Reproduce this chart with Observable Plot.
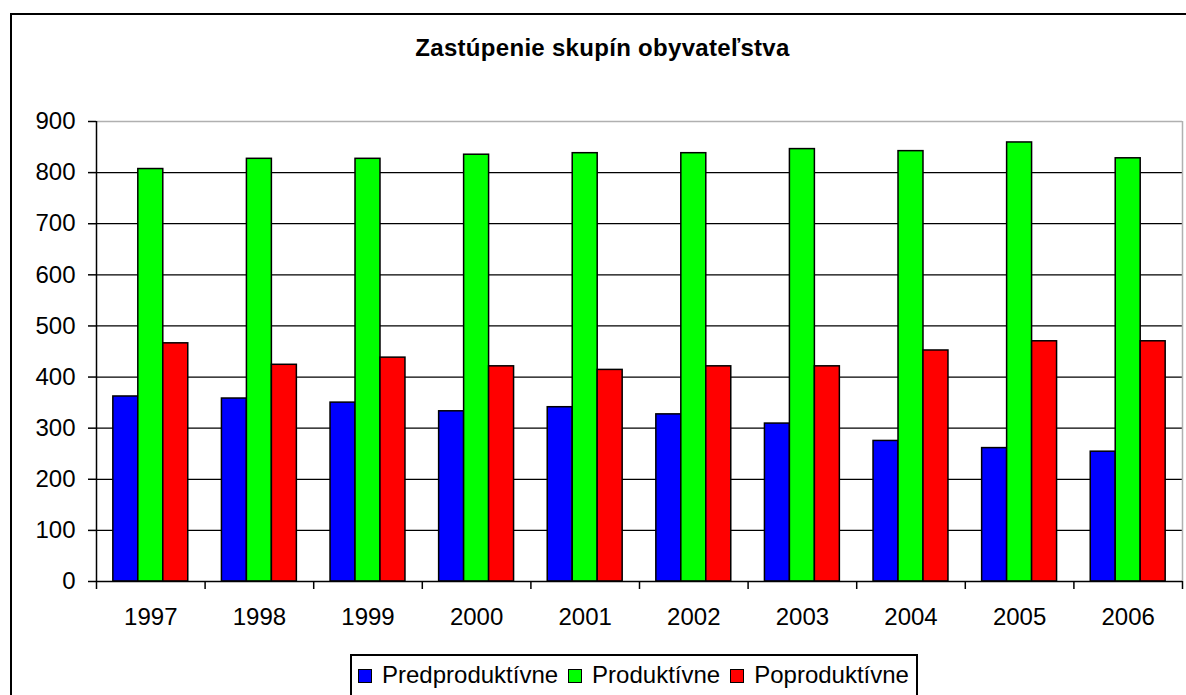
<!DOCTYPE html>
<html>
<head>
<meta charset="utf-8">
<script src="https://cdn.jsdelivr.net/npm/d3@7"></script>
<script src="https://cdn.jsdelivr.net/npm/@observablehq/plot@0.6"></script>
<style>
  html, body { margin: 0; padding: 0; background: #fff; overflow: hidden; width: 1186px; height: 695px; }
  body { position: relative; font-family: "Liberation Sans", Arial, sans-serif; color: #000; }
  #frame { position: absolute; left: 10px; top: 13px; width: 1200px; height: 720px; border: 2px solid #000; box-sizing: border-box; }
  #title { position: absolute; left: 0; top: 36px; width: 1205px; text-align: center; font-weight: bold; font-size: 24px; line-height: 24px; letter-spacing: 0.3px; }
  #chart { position: absolute; left: 0; top: 100px; }
  #legend { position: absolute; left: 350px; top: 654px; width: 568px; height: 60px; border: 2px solid #000; box-sizing: border-box; padding: 7px 0 0 6px; font-size: 24px; line-height: 24px; white-space: nowrap; }
  .item { display: inline-block; margin-right: 10px; }
  .sw { display: inline-block; width: 12px; height: 12px; border: 1.5px solid #000; margin-right: 10px; vertical-align: baseline; }
</style>
</head>
<body>
<div id="frame"></div>
<div id="title">Zastúpenie skupín obyvateľstva</div>
<div id="chart"></div>
<div id="legend"></div>
<script>
const years = [1997, 1998, 1999, 2000, 2001, 2002, 2003, 2004, 2005, 2006];
const seriesNames = ["Predproduktívne", "Produktívne", "Poproduktívne"];
const seriesColors = ["#0000FF", "#00FF00", "#FF0000"];
const predproduktivne = [362, 358, 350, 333, 341, 327, 309, 275, 261, 254];
const produktivne = [807, 827, 827, 835, 838, 838, 846, 842, 859, 828];
const poproduktivne = [466, 424, 438, 421, 414, 421, 421, 452, 470, 470];
const yTicks = [0, 100, 200, 300, 400, 500, 600, 700, 800, 900];

const seriesValues = [predproduktivne, produktivne, poproduktivne];
const groupWidth = 0.69;            // fraction of each category occupied by the bar cluster
const barW = groupWidth / seriesNames.length;
const data = [];
years.forEach((yr, i) => {
  seriesNames.forEach((s, j) => {
    const x1 = i + (1 - groupWidth) / 2 + j * barW;
    data.push({year: yr, series: s, value: seriesValues[j][i], x1, x2: x1 + barW});
  });
});

const font = "'Liberation Sans', Arial, sans-serif";
const chart = Plot.plot({
  width: 1186,
  height: 540,
  marginTop: 21,
  marginBottom: 59,
  marginLeft: 96,
  marginRight: 4,
  x: {domain: [0, years.length], axis: null},
  y: {domain: [0, 900], axis: null},
  color: {domain: seriesNames, range: seriesColors},
  style: {fontFamily: font, fontSize: "24px", color: "#000", background: "transparent", overflow: "visible"},
  marks: [
    Plot.ruleY(yTicks.filter(d => d > 0 && d < 900), {stroke: "#000", strokeWidth: 1.2}),
    Plot.ruleY([900], {stroke: "#b0b0b0", strokeWidth: 1.5}),
    Plot.ruleX([years.length], {stroke: "#b0b0b0", strokeWidth: 1.5}),
    Plot.rectY(data, {x1: "x1", x2: "x2", y: "value", fill: "series", stroke: "#000", strokeWidth: 1.5}),
    Plot.ruleY([0], {stroke: "#000", strokeWidth: 1.5}),
    Plot.ruleX([0], {stroke: "#000", strokeWidth: 1.5}),
    Plot.axisY(yTicks, {anchor: "left", label: null, tickSize: 8, tickPadding: 13, tickFormat: d3.format("d"), fontSize: 24, stroke: "#000", strokeWidth: 1.5}),
    Plot.axisX(d3.range(years.length + 1), {anchor: "bottom", label: null, tickSize: 8, tickFormat: () => "", stroke: "#000", strokeWidth: 1.5}),
    Plot.axisX(years.map((y, i) => i + 0.5), {anchor: "bottom", label: null, tickSize: 0, tickPadding: 26, tickFormat: d => String(years[Math.floor(d)]), fontSize: 24})
  ]
});
document.getElementById("chart").appendChild(chart);

const legend = document.getElementById("legend");
seriesNames.forEach((s, j) => {
  const item = document.createElement("span");
  item.className = "item";
  const sw = document.createElement("span");
  sw.className = "sw";
  sw.style.background = seriesColors[j];
  item.appendChild(sw);
  item.appendChild(document.createTextNode(s));
  legend.appendChild(item);
});
</script>
</body>
</html>
